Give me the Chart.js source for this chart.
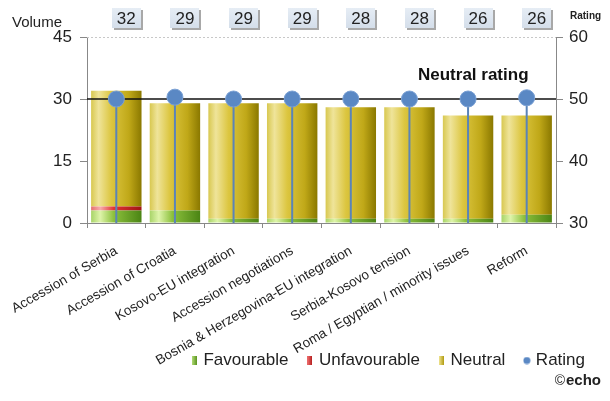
<!DOCTYPE html>
<html>
<head>
<meta charset="utf-8">
<script src="https://cdn.jsdelivr.net/npm/chart.js@4.4.1/dist/chart.umd.min.js"></script>
<style>
  html, body { margin: 0; padding: 0; background: #fff; }
  #wrap { width: 610px; height: 401px; }
</style>
</head>
<body>
<div id="wrap"><canvas id="topicChart"></canvas></div>
<script>
// Topics and values
const topics = ['Accession of Serbia', 'Accession of Croatia', 'Kosovo-EU integration', 'Accession negotiations',
    'Bosnia & Herzegovina-EU integration', 'Serbia-Kosovo tension', 'Roma / Egyptian / minority issues', 'Reform'];
const favourable = [3, 3, 1, 1, 1, 1, 1, 2];
const unfavourable = [1, 0, 0, 0, 0, 0, 0, 0];
const neutral = [28, 26, 28, 28, 27, 27, 25, 24];
const totals = [32, 29, 29, 29, 28, 28, 26, 26];
const rating = [50, 50.3, 50, 50, 50, 50, 50, 50.2];
const volumeTicks = [0, 15, 30, 45];
const ratingTicks = [30, 40, 50, 60];
const neutralRating = 50;

const BAR_PCT = 0.86;
const FONT = 'Arial, "Liberation Sans", sans-serif';

// cylinder look: horizontal gradient across each bar
function barFill(stops) {
    return (ctx) => {
        const chart = ctx.chart;
        const xs = chart.scales.x;
        if (!xs || ctx.dataIndex === undefined) return stops[2][1];
        const cx = xs.getPixelForValue(ctx.dataIndex);
        const half = (xs.width / topics.length) * BAR_PCT / 2;
        if (!isFinite(cx) || !isFinite(half) || half <= 0) return stops[2][1];
        const g = chart.ctx.createLinearGradient(cx - half, 0, cx + half, 0);
        stops.forEach(([o, c]) => g.addColorStop(o, c));
        return g;
    };
}

const greenStops = [[0, '#a8d468'], [0.18, '#def4aa'], [0.45, '#8cc03c'], [1, '#4a8414']];
const redStops = [[0, '#e47070'], [0.18, '#f8acac'], [0.45, '#e03434'], [1, '#a01414']];
const yellowStops = [[0, '#d8c850'], [0.15, '#efe49a'], [0.4, '#dcc640'], [0.75, '#c0a818'], [1, '#8a7800']];

// small legend markers
function marker(kind, c1, c2) {
    const cv = document.createElement('canvas');
    if (kind === 'circle') {
        cv.width = 8; cv.height = 8;
        const c = cv.getContext('2d');
        c.fillStyle = c1;
        c.beginPath(); c.arc(4, 4, 3.5, 0, Math.PI * 2); c.fill();
    } else {
        cv.width = 5; cv.height = 9;
        const c = cv.getContext('2d');
        const g = c.createLinearGradient(0, 0, 5, 0);
        g.addColorStop(0, c1); g.addColorStop(1, c2);
        c.fillStyle = g;
        c.fillRect(0, 0, 5, 9);
    }
    return cv;
}
const legendMarks = [
    marker('rect', '#b4dc78', '#5a9420'),
    marker('rect', '#f07070', '#b01818'),
    marker('rect', '#f0e490', '#b09a10'),
    marker('circle', '#5a88c4')
];

const decorations = {
    id: 'decorations',
    afterLayout(chart) {
        // let the long rotated labels run down past the legend row instead of being cut
        chart.scales.x.bottom = chart.height;
    },
    beforeDatasetDraw(chart, args) {
        if (args.index !== 3) return;
        const c = chart.ctx;
        const area = chart.chartArea;
        const y2 = chart.scales.y2;
        const y = chart.scales.y;
        c.save();
        // dashed top gridline
        const ty = Math.round(y.getPixelForValue(45)) + 0.5;
        c.strokeStyle = '#c8c8c8';
        c.lineWidth = 1;
        c.setLineDash([2, 2]);
        c.beginPath();
        c.moveTo(area.left, ty);
        c.lineTo(area.right, ty);
        c.stroke();
        c.setLineDash([]);
        // drop lines from rating points
        const meta = chart.getDatasetMeta(3);
        c.strokeStyle = '#5a84b8';
        c.lineWidth = 2;
        meta.data.forEach(pt => {
            c.beginPath();
            c.moveTo(pt.x, pt.y);
            c.lineTo(pt.x, area.bottom);
            c.stroke();
        });
        // neutral rating line
        const ny = y2.getPixelForValue(neutralRating);
        c.strokeStyle = '#111';
        c.lineWidth = 1.5;
        c.beginPath();
        c.moveTo(area.left, ny);
        c.lineTo(area.right, ny);
        c.stroke();
        c.fillStyle = '#111';
        c.font = 'bold 17px ' + FONT;
        c.textAlign = 'left';
        c.textBaseline = 'alphabetic';
        c.fillText('Neutral rating', 418, ny - 19);
        c.restore();
    },
    afterDraw(chart) {
        const c = chart.ctx;
        const xs = chart.scales.x;
        c.save();
        // value boxes above the plot
        totals.forEach((v, i) => {
            const cx = xs.getPixelForValue(i) + 10;
            const bx = Math.round(cx - 14.5), by = 8, bw = 29, bh = 20;
            c.fillStyle = '#a8a8a8';
            c.fillRect(bx + 2, by + 2, bw, bh);
            const g = c.createLinearGradient(0, by, 0, by + bh);
            g.addColorStop(0, '#e6edf5');
            g.addColorStop(1, '#d4deea');
            c.fillStyle = g;
            c.fillRect(bx, by, bw, bh);
            c.fillStyle = '#222';
            c.font = '17px ' + FONT;
            c.textAlign = 'center';
            c.textBaseline = 'middle';
            c.fillText(String(v), cx, by + bh / 2 + 1);
        });
        c.fillStyle = '#222';
        c.textBaseline = 'alphabetic';
        c.textAlign = 'left';
        c.font = '15px ' + FONT;
        c.fillText('Volume', 12, 27);
        c.font = 'bold 10px ' + FONT;
        c.fillText('Rating', 570, 19);
        c.textAlign = 'right';
        c.font = 'bold 15px ' + FONT;
        c.fillText('echo', 601, 385);
        c.font = '14px ' + FONT;
        c.fillText('\u00a9', 565, 385);
        c.restore();
    }
};

new Chart(document.getElementById('topicChart'), {
    type: 'bar',
    data: {
        labels: topics,
        datasets: [
            { label: 'Favourable', data: favourable, backgroundColor: barFill(greenStops), yAxisID: 'y', order: 1 },
            { label: 'Unfavourable', data: unfavourable, backgroundColor: barFill(redStops), yAxisID: 'y', order: 1 },
            { label: 'Neutral', data: neutral, backgroundColor: barFill(yellowStops), yAxisID: 'y', order: 1 },
            {
                label: 'Rating', type: 'line', data: rating, yAxisID: 'y2', order: 0,
                showLine: false, pointRadius: 8, pointHoverRadius: 8,
                pointBackgroundColor: '#5a88c4', pointBorderColor: '#7aa0d4', pointBorderWidth: 1
            }
        ]
    },
    options: {
        responsive: true,
        maintainAspectRatio: false,
        animation: false,
        categoryPercentage: 1,
        barPercentage: BAR_PCT,
        layout: { padding: { top: 37, left: 0, right: 4, bottom: 22 } },
        scales: {
            x: {
                stacked: true,
                grid: { drawOnChartArea: false, color: '#888', tickLength: 5, offset: true },
                border: { color: '#888' },
                ticks: {
                    autoSkip: false, minRotation: 30, maxRotation: 30, padding: 15,
                    color: '#222', font: { family: FONT, size: 13.5 }
                },
                afterFit(s) {
                    s.height = 108;
                    s.paddingLeft = 0;
                    s.paddingRight = 0;
                }
            },
            y: {
                stacked: true, position: 'left', min: 0, max: 45,
                afterBuildTicks(s) { s.ticks = volumeTicks.map(v => ({ value: v })); },
                grid: { drawOnChartArea: false, color: '#888', tickLength: 7 },
                border: { color: '#888' },
                ticks: { color: '#222', padding: 8, font: { family: FONT, size: 17 } },
                afterFit(s) { s.width = 87; }
            },
            y2: {
                position: 'right', min: 30, max: 60,
                afterBuildTicks(s) { s.ticks = ratingTicks.map(v => ({ value: v })); },
                grid: { drawOnChartArea: false, color: '#888', tickLength: 7 },
                border: { color: '#888' },
                ticks: { color: '#222', padding: 6, font: { family: FONT, size: 17 } },
                afterFit(s) { s.width = 50; }
            }
        },
        plugins: {
            tooltip: { enabled: false },
            legend: {
                position: 'bottom',
                align: 'end',
                labels: {
                    usePointStyle: true,
                    boxHeight: 9,
                    pointStyleWidth: 1,
                    padding: 21,
                    color: '#222',
                    font: { family: FONT, size: 17 },
                    sort: (a, b) => a.datasetIndex - b.datasetIndex,
                    generateLabels(chart) {
                        const items = Chart.defaults.plugins.legend.labels.generateLabels(chart);
                        items.forEach(it => { it.pointStyle = legendMarks[it.datasetIndex]; });
                        return items;
                    }
                }
            }
        }
    },
    plugins: [decorations]
});
</script>
</body>
</html>
